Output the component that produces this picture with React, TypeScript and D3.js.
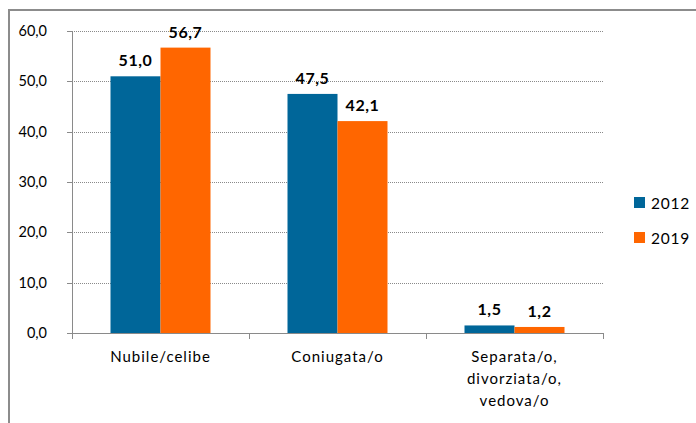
import React from "react";
import * as d3 from "d3";

const categories: string[][] = [
  ["Nubile/celibe"],
  ["Coniugata/o"],
  ["Separata/o,", "divorziata/o,", "vedova/o"],
];
const seriesNames = ["2012", "2019"];
const values2012 = [51.0, 47.5, 1.5];
const values2019 = [56.7, 42.1, 1.2];
const yTicks = [0, 10, 20, 30, 40, 50, 60];
const colors = ["#006699", "#ff6600"];

const W = 696;
const H = 423;
const FONT = "Lato, 'Open Sans', sans-serif";

const fmt = (v: number) => v.toFixed(1).replace(".", ",");

export default function App() {
  const x0 = 72;
  const x1 = 603;
  const yTop = 31;
  const yBottom = 333;
  const catKeys = categories.map((_, i) => String(i));
  const x = d3.scaleBand<string>().domain(catKeys).range([x0, x1]).padding(0);
  const xs = d3
    .scaleBand<string>()
    .domain(seriesNames)
    .range([0, x.bandwidth()])
    .paddingInner(0)
    .paddingOuter(0.77);
  const y = d3.scaleLinear().domain([0, 60]).range([yBottom, yTop]);
  const series = [values2012, values2019];

  return (
    <svg
      width={W}
      height={H}
      style={{ position: "absolute", left: 0, top: 0, background: "#fff" }}
      fontFamily={FONT}
    >
      <rect x={0} y={0} width={W} height={H} fill="#fff" />
      <rect x={9} y={10} width={W + 20} height={H + 20} fill="none" stroke="#8c8c8c" strokeWidth={2} />
      {/* gridlines */}
      {yTicks.filter((t) => t > 0).map((t) => (
        <line
          key={"g" + t}
          x1={x0}
          x2={x1}
          y1={Math.round(y(t)) + 0.5}
          y2={Math.round(y(t)) + 0.5}
          stroke="#8a8a8a"
          strokeWidth={1}
          strokeDasharray="1 1"
        />
      ))}
      {/* bars */}
      {series.map((vals, si) =>
        vals.map((v, ci) => {
          const bx = (x(String(ci)) as number) + (xs(seriesNames[si]) as number);
          return (
            <rect
              key={si + "-" + ci}
              x={bx}
              y={y(v)}
              width={xs.bandwidth()}
              height={yBottom - y(v)}
              fill={colors[si]}
            />
          );
        })
      )}
      {/* value labels */}
      {series.map((vals, si) =>
        vals.map((v, ci) => {
          const bx = (x(String(ci)) as number) + (xs(seriesNames[si]) as number) + xs.bandwidth() / 2;
          return (
            <text
              key={"l" + si + "-" + ci}
              x={bx}
              y={y(v) - 10}
              textAnchor="middle"
              fontSize={16}
              fontWeight="bold"
              letterSpacing={0.6}
              fill="#000"
            >
              {fmt(v)}
            </text>
          );
        })
      )}
      {/* y axis */}
      <line x1={x0 + 0.5} x2={x0 + 0.5} y1={yTop} y2={yBottom} stroke="#8a8a8a" strokeWidth={1} />
      {yTicks.map((t) => (
        <g key={"y" + t}>
          <line
            x1={x0 - 5}
            x2={x0}
            y1={Math.round(y(t)) + 0.5}
            y2={Math.round(y(t)) + 0.5}
            stroke="#8a8a8a"
            strokeWidth={1}
          />
          <text x={47} y={y(t) + 5} textAnchor="end" fontSize={14.5} fill="#000">
            {fmt(t)}
          </text>
        </g>
      ))}
      {/* x axis */}
      <line x1={x0} x2={x1} y1={yBottom + 0.5} y2={yBottom + 0.5} stroke="#8a8a8a" strokeWidth={1} />
      {[...catKeys.map((k) => x(k) as number), x1].map((tx, i) => (
        <line
          key={"xt" + i}
          x1={Math.round(tx) + 0.5}
          x2={Math.round(tx) + 0.5}
          y1={yBottom}
          y2={yBottom + 6}
          stroke="#8a8a8a"
          strokeWidth={1}
        />
      ))}
      {categories.map((lines, ci) => (
        <text
          key={"c" + ci}
          x={(x(String(ci)) as number) + x.bandwidth() / 2}
          y={362}
          textAnchor="middle"
          fontSize={15}
          letterSpacing={1}
          fill="#000"
        >
          {lines.map((l, li) => (
            <tspan key={li} x={(x(String(ci)) as number) + x.bandwidth() / 2} dy={li === 0 ? 0 : 22}>
              {l}
            </tspan>
          ))}
        </text>
      ))}
      {/* legend */}
      {seriesNames.map((s, i) => (
        <g key={"lg" + s} transform={`translate(634, ${197 + i * 35})`}>
          <rect x={0} y={0} width={11} height={11} fill={colors[i]} />
          <text x={17} y={11.5} fontSize={15.5} letterSpacing={0.8} fill="#000">
            {s}
          </text>
        </g>
      ))}
    </svg>
  );
}
